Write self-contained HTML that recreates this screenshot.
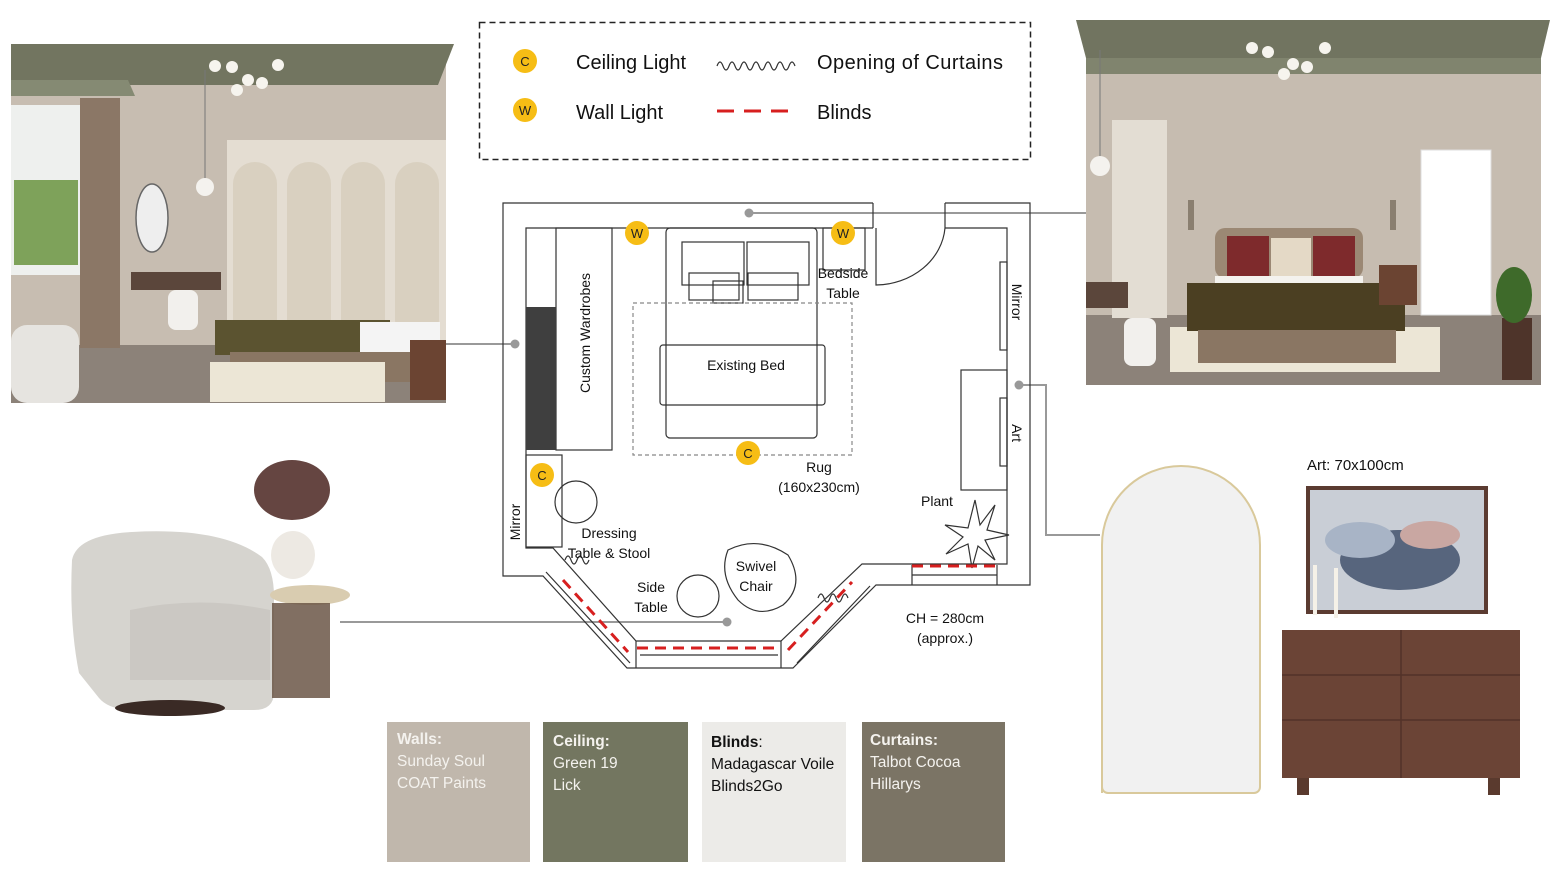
<!DOCTYPE html>
<html><head><meta charset="utf-8"><style>
body{margin:0;width:1556px;height:890px;background:#fff;overflow:hidden}
svg{display:block}
text{font-family:"Liberation Sans",sans-serif}
</style></head><body>
<svg width="1556" height="890" viewBox="0 0 1556 890" xmlns="http://www.w3.org/2000/svg">
<!-- Top-left room photo -->
<g>
<rect x="11" y="44" width="435" height="359" fill="#c7bdb1"/>
<polygon points="11,44 454,44 438,85 11,85" fill="#727560"/>
<polygon points="11,80 128,80 135,96 11,96" fill="#858a73"/>
<rect x="11" y="345" width="435" height="58" fill="#8c8279"/>
<rect x="11" y="105" width="70" height="170" fill="#eef0ee"/>
<rect x="14" y="180" width="64" height="85" fill="#7ea25a"/>
<rect x="80" y="98" width="40" height="250" fill="#8b7766"/>
<rect x="227" y="140" width="219" height="210" fill="#e4ddd2"/>
<rect x="233" y="162" width="44" height="180" rx="22" fill="#d9d0c0"/>
<rect x="287" y="162" width="44" height="180" rx="22" fill="#d9d0c0"/>
<rect x="341" y="162" width="44" height="180" rx="22" fill="#d9d0c0"/>
<rect x="395" y="162" width="44" height="180" rx="22" fill="#d9d0c0"/>
<ellipse cx="152" cy="218" rx="16" ry="34" fill="#eeeeee" stroke="#666" stroke-width="1.5"/>
<rect x="131" y="272" width="90" height="18" fill="#5b463b"/>
<rect x="168" y="290" width="30" height="40" rx="8" fill="#f2f0ed"/>
<rect x="215" y="320" width="175" height="35" fill="#5b5330"/>
<rect x="360" y="322" width="80" height="34" fill="#f4f4f4"/>
<rect x="230" y="352" width="180" height="30" fill="#8a7663"/>
<rect x="210" y="362" width="175" height="40" fill="#ece6d6"/>
<rect x="410" y="340" width="36" height="60" fill="#6b4432"/>
<rect x="11" y="325" width="68" height="78" rx="16" fill="#e6e4e0"/>
<circle cx="215" cy="66" r="6" fill="#f6f4ee"/><circle cx="232" cy="67" r="6" fill="#f6f4ee"/><circle cx="278" cy="65" r="6" fill="#f6f4ee"/><circle cx="248" cy="80" r="6" fill="#f6f4ee"/><circle cx="237" cy="90" r="6" fill="#f6f4ee"/><circle cx="262" cy="83" r="6" fill="#f6f4ee"/>
<line x1="205" y1="70" x2="205" y2="180" stroke="#777"/><circle cx="205" cy="187" r="9" fill="#f4f2ee"/>
</g>
<!-- Top-right room photo -->
<g>
<rect x="1086" y="58" width="455" height="327" fill="#c6bcb0"/>
<polygon points="1076,20 1550,20 1541,58 1086,58" fill="#717460"/>
<rect x="1086" y="58" width="455" height="16" fill="#80846e"/>
<rect x="1086" y="315" width="455" height="70" fill="#8c8279"/>
<rect x="1112" y="120" width="55" height="198" fill="#e3ddd3"/>
<rect x="1421" y="150" width="70" height="165" fill="#ffffff" stroke="#ddd"/>
<rect x="1170" y="327" width="270" height="45" fill="#ece6d6"/>
<rect x="1215" y="228" width="148" height="50" rx="10" fill="#9b8874"/>
<rect x="1227" y="236" width="42" height="40" fill="#7e2a2c"/><rect x="1313" y="236" width="42" height="40" fill="#7e2a2c"/>
<rect x="1271" y="238" width="40" height="40" fill="#e4d9c6"/>
<rect x="1215" y="276" width="148" height="10" fill="#f4f2ee"/>
<rect x="1187" y="283" width="218" height="48" fill="#4b3f22"/>
<rect x="1198" y="330" width="198" height="33" fill="#8a7663"/>
<rect x="1379" y="265" width="38" height="40" fill="#6b4432"/>
<rect x="1086" y="282" width="42" height="26" fill="#5b463b"/>
<rect x="1124" y="318" width="32" height="48" rx="8" fill="#f2f0ed"/>
<rect x="1502" y="318" width="30" height="62" fill="#4e342a"/>
<ellipse cx="1514" cy="295" rx="18" ry="28" fill="#3e6a2a"/>
<rect x="1188" y="200" width="6" height="30" fill="#8a7f70"/><rect x="1390" y="200" width="6" height="30" fill="#8a7f70"/>
<circle cx="1252" cy="48" r="6" fill="#f6f4ee"/><circle cx="1268" cy="52" r="6" fill="#f6f4ee"/><circle cx="1325" cy="48" r="6" fill="#f6f4ee"/><circle cx="1293" cy="64" r="6" fill="#f6f4ee"/><circle cx="1284" cy="74" r="6" fill="#f6f4ee"/><circle cx="1307" cy="67" r="6" fill="#f6f4ee"/>
<line x1="1100" y1="50" x2="1100" y2="160" stroke="#777"/><circle cx="1100" cy="166" r="10" fill="#f4f2ee"/>
</g>
<!-- Legend -->
<rect x="479.5" y="22.5" width="551" height="137" fill="none" stroke="#222" stroke-width="1.5" stroke-dasharray="6,4"/>
<circle cx="525" cy="61" r="12" fill="#f6bd15"/><text x="525" y="66" font-size="13" text-anchor="middle" fill="#222">C</text>
<circle cx="525" cy="110" r="12" fill="#f6bd15"/><text x="525" y="115" font-size="13" text-anchor="middle" fill="#222">W</text>
<text x="576" y="69" font-size="20" fill="#111">Ceiling Light</text>
<text x="576" y="119" font-size="20" fill="#111">Wall Light</text>
<path d="M717,66 q3,-8 6,0 t6,0 t6,0 t6,0 t6,0 t6,0 t6,0 t6,0 t6,0 t6,0 t6,0 t6,0 t6,0" fill="none" stroke="#333" stroke-width="1.2"/>
<line x1="717" y1="111" x2="792" y2="111" stroke="#d71f1f" stroke-width="3" stroke-dasharray="17,10"/>
<text x="817" y="69" font-size="20" fill="#111" textLength="186">Opening of Curtains</text>
<text x="817" y="119" font-size="20" fill="#111">Blinds</text>
<!-- Connectors -->
<g stroke="#999" stroke-width="2" fill="none">
<polyline points="446,344 515,344"/>
<polyline points="749,213 1086,213"/>
<polyline points="1019,385 1046,385 1046,535 1100,535"/>
<polyline points="340,622 727,622"/>
</g>
<g fill="#999"><circle cx="515" cy="344" r="4.5"/><circle cx="749" cy="213" r="4.5"/><circle cx="1019" cy="385" r="4.5"/><circle cx="727" cy="622" r="4.5"/></g>
<!-- Floor plan -->
<g fill="none" stroke="#333" stroke-width="1.2">
<path d="M873,203 H503 V576 H543 L627,668 H793 L876,585 H1030 V203 H945"/>
<path d="M873,228 H526 V548 H553 L636,641 H781 L862,564 H1007 V228 H945"/>
<path d="M945,203 V228 M873,203 V228"/>
<path d="M876,228 V285 A70,62 0 0 0 945,228"/>
<rect x="556" y="228" width="56" height="222"/>
<rect x="526" y="455" width="36" height="92"/>
<circle cx="576" cy="502" r="21"/>
<rect x="666" y="228" width="151" height="210" rx="4"/>
<rect x="660" y="345" width="165" height="60" rx="3"/>
<rect x="682" y="242" width="62" height="43"/><rect x="747" y="242" width="62" height="43"/>
<rect x="689" y="273" width="50" height="27"/><rect x="748" y="273" width="50" height="27"/><rect x="713" y="281" width="30" height="22"/>
<rect x="823" y="228" width="42" height="42"/>
<rect x="1000" y="262" width="7" height="88"/><rect x="961" y="370" width="46" height="120"/><rect x="1000" y="398" width="7" height="68"/>
<path d="M546,572 L630,663 M797,663 L870,586 M636,641 V668 M781,641 V668 M912,565 V585 M997,565 V585 M912,575 H997 M640,655 H778"/>
<ellipse cx="698" cy="596" rx="21" ry="21"/>
<path d="M728,550 q30,-15 60,5 q18,30 -5,50 q-25,15 -45,-5 q-20,-25 -10,-50z"/>
<path d="M975,500 l5,25 l15,-20 l-8,25 l22,5 l-24,5 l10,20 l-17,-14 l-6,22 l-4,-24 l-22,10 l17,-17 l-18,-12 l23,3z"/>
<path d="M565,560 q3,-8 6,0 t6,0 t6,0 t6,0 M818,598 q3,-8 6,0 t6,0 t6,0 t6,0 t6,0"/>
</g>
<rect x="526" y="307" width="30" height="143" fill="#3f3f3f"/>
<rect x="633" y="303" width="219" height="152" fill="none" stroke="#888" stroke-width="1.2" stroke-dasharray="4,3"/>
<g stroke="#d71f1f" stroke-width="3" stroke-dasharray="11,7" fill="none">
<line x1="563" y1="580" x2="628" y2="652"/><line x1="637" y1="648" x2="778" y2="648"/><line x1="788" y1="650" x2="852" y2="582"/><line x1="912" y1="566" x2="997" y2="566"/>
</g>
<g fill="#f6bd15"><circle cx="637" cy="233" r="12"/><circle cx="843" cy="233" r="12"/><circle cx="748" cy="453" r="12"/><circle cx="542" cy="475" r="12"/></g>
<g font-size="13" text-anchor="middle" fill="#222"><text x="637" y="238">W</text><text x="843" y="238">W</text><text x="748" y="458">C</text><text x="542" y="480">C</text></g>
<g font-size="14" fill="#111" text-anchor="middle">
<text x="843" y="278">Bedside</text><text x="843" y="298">Table</text>
<text x="746" y="370">Existing Bed</text>
<text x="819" y="472">Rug</text><text x="819" y="492">(160x230cm)</text>
<text x="937" y="506">Plant</text>
<text x="609" y="538">Dressing</text><text x="609" y="558">Table &amp; Stool</text>
<text x="651" y="592">Side</text><text x="651" y="612">Table</text>
<text x="756" y="571">Swivel</text><text x="756" y="591">Chair</text>
<text x="945" y="623">CH = 280cm</text><text x="945" y="643">(approx.)</text>
<text transform="translate(590,333) rotate(-90)">Custom Wardrobes</text>
<text transform="translate(520,522) rotate(-90)">Mirror</text>
<text transform="translate(1012,302) rotate(90)">Mirror</text>
<text transform="translate(1012,433) rotate(90)">Art</text>
</g>
<!-- Armchair & side table -->
<path d="M72,560 q5,-25 60,-28 q90,-5 130,25 q12,12 12,40 v95 q0,18 -20,18 h-120 q-25,0 -35,-12 l-20,-25 q-10,-50 -7,-113z" fill="#d6d4cf"/>
<path d="M130,610 q70,-15 140,0 v70 h-140z" fill="#cbc8c3"/>
<ellipse cx="170" cy="708" rx="55" ry="8" fill="#3a2a25"/>
<ellipse cx="310" cy="595" rx="40" ry="10" fill="#d9ccb0"/>
<rect x="272" y="603" width="58" height="95" fill="#6b5646" opacity="0.85"/>
<ellipse cx="293" cy="555" rx="22" ry="24" fill="#ede9e3"/>
<ellipse cx="292" cy="490" rx="38" ry="30" fill="#4a2420" opacity="0.85"/>
<!-- Mirror -->
<path d="M1102,793 V545 A79,79 0 0 1 1260,545 V787 a6,6 0 0 1 -6,6 H1108 a6,6 0 0 1 -6,-6z" fill="#f1f1f1" stroke="#d9c99b" stroke-width="2"/>
<text x="1307" y="470" font-size="15" fill="#111">Art: 70x100cm</text>
<rect x="1306" y="486" width="182" height="128" fill="#5b3b31"/>
<rect x="1310" y="490" width="174" height="120" fill="#c9ced6"/>
<ellipse cx="1400" cy="560" rx="60" ry="30" fill="#3b4b66" opacity="0.8"/>
<ellipse cx="1360" cy="540" rx="35" ry="18" fill="#a8b4c6"/>
<ellipse cx="1430" cy="535" rx="30" ry="14" fill="#c9a7a2"/>
<rect x="1313" y="565" width="4" height="50" fill="#f5f1e8"/><rect x="1334" y="568" width="4" height="50" fill="#f5f1e8"/>
<rect x="1282" y="630" width="238" height="148" fill="#6b4436"/>
<g stroke="#533228" stroke-width="1.5"><line x1="1282" y1="675" x2="1520" y2="675"/><line x1="1282" y1="720" x2="1520" y2="720"/><line x1="1401" y1="630" x2="1401" y2="778"/></g>
<rect x="1297" y="778" width="12" height="17" fill="#5a3a2e"/><rect x="1488" y="778" width="12" height="17" fill="#5a3a2e"/>
<!-- Swatches -->
<rect x="387" y="722" width="143" height="140" fill="#c0b7ac"/>
<rect x="543" y="722" width="145" height="140" fill="#737660"/>
<rect x="702" y="722" width="144" height="140" fill="#ecebe8"/>
<rect x="862" y="722" width="143" height="140" fill="#7b7465"/>
<g font-size="15.5" fill="#f4f2ee">
<text x="397" y="744" font-weight="bold">Walls:</text><text x="397" y="766">Sunday Soul</text><text x="397" y="788">COAT Paints</text>
<text x="553" y="746" font-weight="bold">Ceiling:</text><text x="553" y="768">Green 19</text><text x="553" y="790">Lick</text>
<text x="870" y="745" font-weight="bold">Curtains:</text><text x="870" y="767">Talbot Cocoa</text><text x="870" y="789">Hillarys</text>
</g>
<g font-size="15.5" fill="#111">
<text x="711" y="747"><tspan font-weight="bold">Blinds</tspan>:</text><text x="711" y="769">Madagascar Voile</text><text x="711" y="791">Blinds2Go</text>
</g>
</svg>
</body></html>
